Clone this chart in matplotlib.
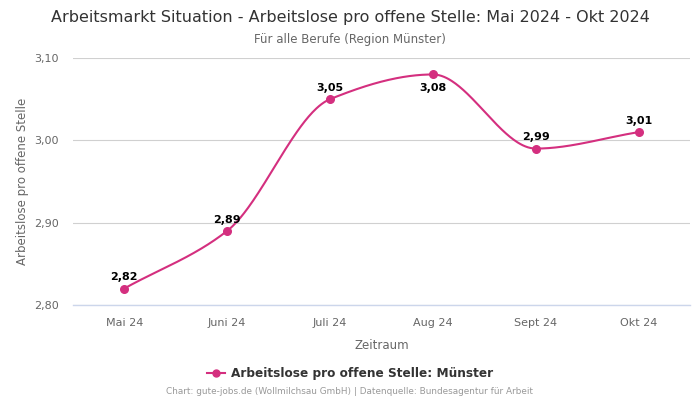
import numpy as np
from matplotlib import pyplot as plt
from matplotlib.lines import Line2D

# Data
months = ["Mai 24", "Juni 24", "Juli 24", "Aug 24", "Sept 24", "Okt 24"]
values = [2.82, 2.89, 3.05, 3.08, 2.99, 3.01]
label_below = [False, False, False, True, False, False]
yticks = [2.80, 2.90, 3.00, 3.10]

LINE = "#d42f7f"


def pchip(x, y, xs):
    # monotone cubic (Fritsch-Carlson) for the smooth line
    x = np.asarray(x, float)
    y = np.asarray(y, float)
    h = np.diff(x)
    d = np.diff(y) / h
    m = np.zeros_like(y)
    for i in range(1, len(y) - 1):
        if d[i - 1] * d[i] > 0:
            w1 = 2 * h[i] + h[i - 1]
            w2 = h[i] + 2 * h[i - 1]
            m[i] = (w1 + w2) / (w1 / d[i - 1] + w2 / d[i])
    m[0] = d[0]
    m[-1] = d[-1]
    out = np.empty_like(xs)
    for j, xv in enumerate(xs):
        i = min(np.searchsorted(x, xv, side="right") - 1, len(x) - 2)
        t = (xv - x[i]) / h[i]
        h00 = 2 * t**3 - 3 * t**2 + 1
        h10 = t**3 - 2 * t**2 + t
        h01 = -2 * t**3 + 3 * t**2
        h11 = t**3 - t**2
        out[j] = h00 * y[i] + h10 * h[i] * m[i] + h01 * y[i + 1] + h11 * h[i] * m[i + 1]
    return out


fig = plt.figure(figsize=(7, 4), dpi=100)
ax = fig.add_axes([0.104, 0.2375, 0.882, 0.6175])

xpos = np.arange(len(months))
xs = np.linspace(0, len(months) - 1, 400)
ax.plot(xs, pchip(xpos, values, xs), color=LINE, lw=1.5, zorder=3)
ax.scatter(xpos, values, s=30, color=LINE, zorder=4)

for x, v, below in zip(xpos, values, label_below):
    txt = f"{v:.2f}".replace(".", ",")
    dy = -6 if below else 4.5
    ax.annotate(txt, (x, v), xytext=(0, dy), textcoords="offset points",
                ha="center", va="top" if below else "bottom",
                fontsize=8, fontweight="bold", color="black", zorder=5)

ax.set_xlim(-0.5, len(months) - 0.5)
ax.set_ylim(2.80, 3.10)
ax.set_yticks(yticks)
ax.set_yticklabels([f"{t:.2f}".replace(".", ",") for t in yticks])
ax.set_xticks(xpos)
ax.set_xticklabels(months)
ax.tick_params(axis="both", length=0, labelsize=8, colors="#666666", pad=10)
ax.tick_params(axis="x", pad=9)
ax.grid(axis="y", color="#d0d0d0", lw=0.8)
ax.axhline(2.80, color="#ccd6eb", lw=1, clip_on=False, zorder=1)
ax.set_axisbelow(True)
for s in ax.spines.values():
    s.set_visible(False)

ax.set_xlabel("Zeitraum", fontsize=8.5, color="#666666", labelpad=8)
ax.set_ylabel("Arbeitslose pro offene Stelle", fontsize=8.5, color="#666666", labelpad=4)

fig.text(0.5, 0.957, "Arbeitsmarkt Situation - Arbeitslose pro offene Stelle: Mai 2024 - Okt 2024",
         ha="center", va="center", fontsize=11.5, color="#333333")
fig.text(0.5, 0.902, "Für alle Berufe (Region Münster)", ha="center", va="center",
         fontsize=8.5, color="#666666")

handle = Line2D([], [], color=LINE, marker="o", markersize=5, lw=1.5)
fig.legend([handle], ["Arbeitslose pro offene Stelle: Münster"], loc="center",
           bbox_to_anchor=(0.5, 0.066), frameon=False,
           prop={"size": 8.7, "weight": "bold"}, labelcolor="#333333",
           handlelength=1.5, handletextpad=0.5)

fig.text(0.5, 0.02, "Chart: gute-jobs.de (Wollmilchsau GmbH) | Datenquelle: Bundesagentur für Arbeit",
         ha="center", va="center", fontsize=6.4, color="#999999")

fig.savefig("out.png", dpi=100)
plt.close()
